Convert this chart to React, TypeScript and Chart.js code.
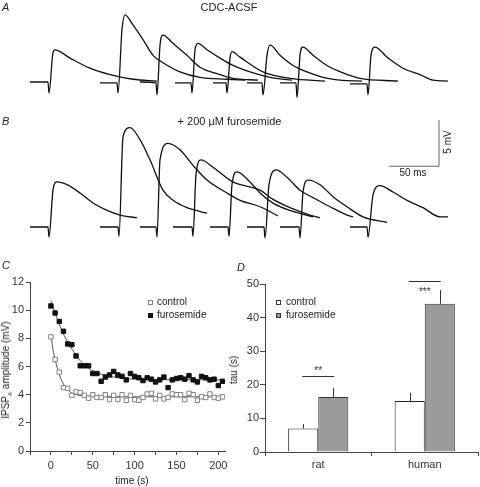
import React, { useEffect, useRef } from 'react';
import { Chart, registerables } from 'chart.js';

Chart.register(...registerables);

const FONT = '"Liberation Sans", Arial, Helvetica, sans-serif';
const INK = '#222';
const AXIS = '#444';

// ---------- Panel A: CDC-ACSF sweeps, [time (ms), potential (mV)] ----------
const sweepA1 = [[0, 0], [18, 0], [19, -1.2], [23, 3.2], [25, 3.5], [40, 2.6], [60, 1.5], [80, 0.8], [103, 0.3], [127, 0.1]];
const sweepA2 = [[70, -0.1], [87, -0.1], [88, -1.2], [92, 5.7], [95, 7.3], [103, 6.2], [113, 4.6], [123, 2.9], [133, 2.1], [150, 1.1], [170, 0.5], [197, 0.3], [215, 0.2]];
const sweepA3 = [[110, 0], [126, -0.1], [127, -1.4], [130, 4.0], [133, 5.1], [143, 4.2], [157, 2.9], [170, 1.6], [187, 0.9], [203, 0.4], [228, 0.2]];
const sweepA4 = [[145, -0.1], [161, -0.1], [162, -1.2], [165, 3.5], [168, 4.2], [177, 3.5], [190, 2.6], [203, 1.8], [220, 1.1], [240, 0.5], [262, 0.2]];
const sweepA5 = [[183, -0.1], [196, -0.1], [197, -1.2], [200, 2.6], [202, 3.3], [210, 2.7], [233, 1.1], [260, 0.4], [295, 0.1]];
const sweepA6 = [[217, -0.1], [232, -0.1], [233, -1.4], [237, 2.9], [240, 4.0], [250, 2.9], [263, 1.8], [277, 1.1], [293, 0.5], [310, 0.2], [332, 0.1]];
const sweepA7 = [[250, -0.1], [266, -0.1], [267, -1.7], [270, 2.9], [273, 3.8], [283, 2.9], [297, 1.8], [313, 1.0], [330, 0.4], [368, 0.1]];
const sweepA8 = [[320, -0.2], [337, -0.2], [338, -1.4], [341, 2.9], [345, 3.8], [357, 2.7], [373, 1.5], [390, 0.8], [403, 0.2], [418, 0.1]];

// ---------- Panel B: + 200 µM furosemide sweeps ----------
const sweepB1 = [[0, 0], [18, 0], [19, -1.1], [23, 4.0], [27, 4.9], [37, 4.6], [50, 3.7], [63, 2.6], [77, 1.8], [90, 1.3], [107, 1.0]];
const sweepB2 = [[70, 0], [88, 0], [89, -1.0], [93, 9.8], [100, 10.8], [110, 9.5], [120, 7.3], [133, 4.0], [143, 2.9], [157, 2.1], [177, 1.5]];
const sweepB3 = [[110, 0], [126, 0], [127, -1.1], [130, 7.3], [138, 9.1], [150, 8.4], [163, 6.7], [177, 5.1], [197, 3.7], [210, 2.9], [230, 2.2], [248, 1.2]];
const sweepB4 = [[143, 0], [162, 0], [163, -1.0], [166, 5.7], [171, 7.3], [183, 6.5], [203, 4.9], [230, 4.0], [243, 3.0], [260, 2.1], [280, 1.3], [290, 1.0]];
const sweepB5 = [[180, 0], [198, 0], [199, -1.0], [202, 4.6], [207, 6.0], [220, 4.9], [230, 3.7], [243, 2.6], [260, 1.8], [283, 1.1]];
const sweepB6 = [[217, 0], [234, 0], [235, -1.2], [239, 4.6], [246, 6.2], [257, 5.4], [270, 4.0], [283, 3.2], [300, 2.2], [317, 1.3], [323, 1.1]];
const sweepB7 = [[250, 0], [269, 0], [270, -1.2], [273, 3.8], [278, 5.1], [290, 4.6], [303, 3.3], [317, 2.2], [333, 1.1], [357, 0.5]];
const sweepB8 = [[320, 0], [337, 0], [338, -1.1], [343, 3.5], [350, 4.5], [363, 3.8], [377, 2.9], [393, 2.1], [410, 1.1], [418, 1.1]];

// scale bar (50 ms, 5 mV), corner position in data units
const scaleBarMs = 50;
const scaleBarMv = 5;
const scaleBarCorner = [409, 6.6];

// ---------- Panel C: IPSP amplitude vs time ----------
const timeS = [0, 5, 10, 15, 20, 25, 30, 35, 40, 45, 50, 55, 60, 65, 70, 75, 80, 85, 90, 95, 100, 105, 110, 115, 120, 125, 130, 135, 140, 145, 150, 155, 160, 165, 170, 175, 180, 185, 190, 195, 200, 205];
const controlAmp = [8.1, 6.5, 5.6, 4.5, 4.45, 3.95, 4.2, 4.15, 3.95, 3.75, 4.0, 3.8, 3.8, 4.0, 3.65, 3.95, 3.65, 4.0, 3.6, 3.95, 3.65, 3.6, 3.8, 4.05, 4.1, 3.7, 3.95, 3.7, 3.8, 4.05, 4.0, 4.0, 3.65, 4.1, 4.0, 3.6, 3.85, 3.8, 4.05, 3.8, 3.75, 3.85];
const furoAmp = [10.3, 9.8, 9.2, 8.5, 7.6, 7.55, 6.75, 6.05, 6.05, 6.05, 5.5, 5.5, 4.95, 5.25, 5.4, 5.65, 5.4, 5.3, 5.05, 5.5, 5.3, 5.2, 5.0, 5.2, 5.1, 4.9, 5.05, 5.25, 4.5, 5.05, 5.15, 5.2, 5.1, 5.35, 5.05, 4.9, 5.3, 5.2, 5.05, 5.1, 4.65, 4.95];
const controlFitT = [0, 2.5, 5, 7.5, 10, 12.5, 15, 20, 25, 30, 40, 60, 100, 207];
const controlFitV = [8.3, 7.2, 6.5, 5.9, 5.45, 5.05, 4.75, 4.35, 4.1, 4.0, 3.9, 3.86, 3.85, 3.85];
const furoFitT = [0, 5, 10, 15, 20, 25, 30, 40, 50, 60, 80, 100, 150, 207];
const furoFitV = [10.7, 9.8, 9.0, 8.3, 7.75, 7.25, 6.8, 6.1, 5.7, 5.45, 5.2, 5.1, 5.06, 5.05];
const timeTicks = [0, 50, 100, 150, 200];

// ---------- Panel D: tau ----------
const species = ['rat', 'human'];
const tauControl = [7.0, 15.2];
const tauControlErr = [1.3, 2.4];
const tauFuro = [16.4, 44.1];
const tauFuroErr = [2.7, 4.1];
const sigLevel = [22.6, 51];
const sigLabel = ['**', '***'];

type Pt = number[];

function Label(props: { x: number; y: number; size?: number; anchor?: 'left' | 'center'; rotate?: boolean; italic?: boolean; color?: string; children: React.ReactNode }) {
  const { x, y, size = 11, anchor = 'center', rotate, italic, color = INK, children } = props;
  const tx = anchor === 'left' ? '0' : '-50%';
  return (
    <div
      style={{
        position: 'absolute',
        left: x,
        top: y,
        transform: `translate(${tx}, -50%)${rotate ? ' rotate(-90deg)' : ''}`,
        transformOrigin: anchor === 'left' ? 'left center' : 'center center',
        fontFamily: FONT,
        fontSize: size,
        lineHeight: 1,
        fontStyle: italic ? 'italic' : 'normal',
        color,
        whiteSpace: 'nowrap',
      }}
    >
      {children}
    </div>
  );
}

function TraceChart(props: { sweeps: Pt[][]; top: number; height: number; yMin: number; yMax: number; withBar?: boolean }) {
  const ref = useRef<HTMLCanvasElement>(null);
  useEffect(() => {
    const datasets: any[] = props.sweeps.map((s) => ({
      data: s.map(([x, y]) => ({ x, y })),
      borderColor: '#111',
      borderWidth: 1.3,
      pointRadius: 0,
      cubicInterpolationMode: 'monotone',
      fill: false,
    }));
    if (props.withBar) {
      const [cx, cy] = scaleBarCorner;
      datasets.push({
        data: [
          { x: cx - scaleBarMs, y: cy },
          { x: cx, y: cy },
          { x: cx, y: cy + scaleBarMv },
        ],
        borderColor: '#666',
        borderWidth: 1,
        pointRadius: 0,
        tension: 0,
        fill: false,
      });
    }
    const chart = new Chart(ref.current as HTMLCanvasElement, {
      type: 'line',
      data: { datasets },
      options: {
        animation: false,
        responsive: false,
        devicePixelRatio: 1,
        layout: { padding: 0 },
        plugins: { legend: { display: false }, tooltip: { enabled: false } },
        scales: {
          x: { type: 'linear', display: false, min: -30, max: 450 },
          y: { type: 'linear', display: false, min: props.yMin, max: props.yMax },
        },
      },
    });
    return () => chart.destroy();
  }, []);
  return (
    <canvas
      ref={ref}
      width={480}
      height={props.height}
      style={{ position: 'absolute', left: 0, top: props.top, width: 480, height: props.height }}
    />
  );
}

function AmplitudeChart() {
  const ref = useRef<HTMLCanvasElement>(null);
  useEffect(() => {
    const tickFont = { family: FONT, size: 11 };
    const chart = new Chart(ref.current as HTMLCanvasElement, {
      type: 'line',
      data: {
        datasets: [
          {
            data: controlFitT.map((t, i) => ({ x: t, y: controlFitV[i] })),
            borderColor: '#555',
            borderWidth: 1,
            pointRadius: 0,
            cubicInterpolationMode: 'monotone',
            order: 3,
          } as any,
          {
            data: furoFitT.map((t, i) => ({ x: t, y: furoFitV[i] })),
            borderColor: '#555',
            borderWidth: 1,
            pointRadius: 0,
            cubicInterpolationMode: 'monotone',
            order: 3,
          },
          {
            data: timeS.map((t, i) => ({ x: t, y: controlAmp[i] })),
            showLine: false,
            pointStyle: 'rect',
            pointRadius: 3.1,
            backgroundColor: '#fff',
            borderColor: '#808080',
            borderWidth: 1,
            order: 1,
          },
          {
            data: timeS.map((t, i) => ({ x: t, y: furoAmp[i] })),
            showLine: false,
            pointStyle: 'rect',
            pointRadius: 3.1,
            backgroundColor: '#111',
            borderColor: '#111',
            borderWidth: 1,
            order: 1,
          },
        ],
      },
      options: {
        animation: false,
        responsive: false,
        devicePixelRatio: 1,
        layout: { padding: { top: 12, right: 10, left: 0, bottom: 0 } },
        plugins: { legend: { display: false }, tooltip: { enabled: false } },
        scales: {
          x: {
            type: 'linear',
            min: -25,
            max: 208,
            border: { color: AXIS, width: 1 },
            grid: { drawOnChartArea: false, tickLength: 4, color: AXIS },
            ticks: {
              stepSize: 25,
              includeBounds: false,
              autoSkip: false,
              maxRotation: 0,
              padding: 4,
              color: '#333',
              font: tickFont,
              callback: (v: any) => (timeTicks.includes(Number(v)) ? String(v) : ''),
            },
            afterFit: (s: any) => {
              s.height = 36;
            },
          },
          y: {
            type: 'linear',
            min: 0,
            max: 12,
            border: { color: AXIS, width: 1 },
            grid: { drawOnChartArea: false, tickLength: 4, color: AXIS },
            ticks: { stepSize: 2, padding: 2, color: '#333', font: tickFont },
            afterFit: (s: any) => {
              s.width = 30;
            },
          },
        },
      },
    });
    return () => chart.destroy();
  }, []);
  return <canvas ref={ref} width={235} height={217} style={{ position: 'absolute', left: 0, top: 270, width: 235, height: 217 }} />;
}

function TauChart() {
  const ref = useRef<HTMLCanvasElement>(null);
  useEffect(() => {
    const tickFont = { family: FONT, size: 11 };
    const marks = {
      id: 'errorsAndSignificance',
      afterDatasetsDraw(chart: any) {
        const ctx = chart.ctx;
        const ys = chart.scales.y;
        [tauControlErr, tauFuroErr].forEach((errs, i) => {
          const meta = chart.getDatasetMeta(i);
          meta.data.forEach((el: any, j: number) => {
            const v = chart.data.datasets[i].data[j];
            const top = ys.getPixelForValue(v + errs[j]);
            ctx.save();
            ctx.strokeStyle = '#333';
            ctx.lineWidth = 1;
            ctx.beginPath();
            ctx.moveTo(Math.round(el.x) + 0.5, el.y);
            ctx.lineTo(Math.round(el.x) + 0.5, top);
            ctx.stroke();
            ctx.restore();
          });
        });
        const offsets = [-5, 11];
        sigLevel.forEach((lvl, j) => {
          const x1 = chart.getDatasetMeta(0).data[j].x;
          const x2 = chart.getDatasetMeta(1).data[j].x;
          const py = Math.round(ys.getPixelForValue(lvl)) + 0.5;
          ctx.save();
          ctx.strokeStyle = '#333';
          ctx.lineWidth = 1;
          ctx.beginPath();
          ctx.moveTo(x1 - 1, py);
          ctx.lineTo(x2 + 1, py);
          ctx.stroke();
          ctx.fillStyle = '#333';
          ctx.font = `10px ${FONT}`;
          ctx.textAlign = 'center';
          ctx.textBaseline = 'middle';
          ctx.fillText(sigLabel[j], (x1 + x2) / 2, py + offsets[j]);
          ctx.restore();
        });
      },
    };
    const chart = new Chart(ref.current as HTMLCanvasElement, {
      type: 'bar',
      data: {
        labels: species,
        datasets: [
          {
            label: 'control',
            data: tauControl,
            backgroundColor: '#ffffff',
            borderColor: '#222',
            borderWidth: 1,
            categoryPercentage: 0.565,
            barPercentage: 1,
          },
          {
            label: 'furosemide',
            data: tauFuro,
            backgroundColor: '#9b9b9b',
            borderColor: '#333',
            borderWidth: 1,
            categoryPercentage: 0.565,
            barPercentage: 1,
          },
        ],
      },
      options: {
        animation: false,
        responsive: false,
        devicePixelRatio: 1,
        layout: { padding: { top: 14, right: 2, left: 0, bottom: 0 } },
        plugins: { legend: { display: false }, tooltip: { enabled: false } },
        scales: {
          x: {
            border: { color: AXIS, width: 1 },
            grid: { offset: true, drawOnChartArea: false, tickLength: 4, color: AXIS },
            ticks: { padding: 2, color: '#333', font: tickFont, maxRotation: 0 },
            afterFit: (s: any) => {
              s.height = 35;
            },
          },
          y: {
            min: 0,
            max: 50,
            border: { color: AXIS, width: 1 },
            grid: { drawOnChartArea: false, tickLength: 5, color: AXIS },
            ticks: { stepSize: 10, padding: 1, color: '#333', font: tickFont },
            afterFit: (s: any) => {
              s.width = 25;
            },
          },
        },
      },
      plugins: [marks],
    });
    return () => chart.destroy();
  }, []);
  return <canvas ref={ref} width={240} height={217} style={{ position: 'absolute', left: 240, top: 270, width: 240, height: 217 }} />;
}

function Square(props: { x: number; y: number; fill: string; stroke: string }) {
  return (
    <div
      style={{
        position: 'absolute',
        left: props.x - 2.5,
        top: props.y - 2.5,
        width: 5,
        height: 5,
        boxSizing: 'border-box',
        background: props.fill,
        border: `1px solid ${props.stroke}`,
      }}
    />
  );
}

export default function App() {
  return (
    <div style={{ position: 'absolute', left: 0, top: 0, width: 480, height: 487, background: '#fff', overflow: 'hidden' }}>
      <TraceChart sweeps={[sweepA1, sweepA2, sweepA3, sweepA4, sweepA5, sweepA6, sweepA7, sweepA8]} top={0} height={105} yMin={-2.5} yMax={8.913} />
      <TraceChart sweeps={[sweepB1, sweepB2, sweepB3, sweepB4, sweepB5, sweepB6, sweepB7, sweepB8]} top={105} height={140} yMin={-1.957} yMax={13.261} withBar />
      <AmplitudeChart />
      <TauChart />

      <Label x={2} y={6.5} anchor="left" italic>A</Label>
      <Label x={229} y={6.5}>CDC-ACSF</Label>
      <Label x={2} y={120.5} anchor="left" italic>B</Label>
      <Label x={229.5} y={120.5}>+ 200 µM furosemide</Label>
      <Label x={448} y={142} size={10} rotate>5 mV</Label>
      <Label x={413} y={173} size={10}>50 ms</Label>

      <Label x={2} y={265} anchor="left" italic>C</Label>
      <Label x={237} y={267} anchor="left" italic>D</Label>

      <Square x={150} y={302} fill="#fff" stroke="#808080" />
      <Label x={157} y={302} size={10} anchor="left">control</Label>
      <Square x={150} y={315} fill="#111" stroke="#111" />
      <Label x={157} y={315} size={10} anchor="left">furosemide</Label>

      <Square x={278} y={302} fill="#fff" stroke="#333" />
      <Label x={286} y={302} size={10} anchor="left">control</Label>
      <Square x={278} y={315} fill="#9b9b9b" stroke="#333" />
      <Label x={286} y={315} size={10} anchor="left">furosemide</Label>

      <Label x={6} y={370} size={10} rotate>
        IPSP<sub style={{ fontSize: 6, verticalAlign: 'sub', lineHeight: 0 }}>A</sub> amplitude (mV)
      </Label>
      <Label x={132} y={481} size={10}>time (s)</Label>
      <Label x={234} y={370} size={10} rotate>tau (s)</Label>
    </div>
  );
}
